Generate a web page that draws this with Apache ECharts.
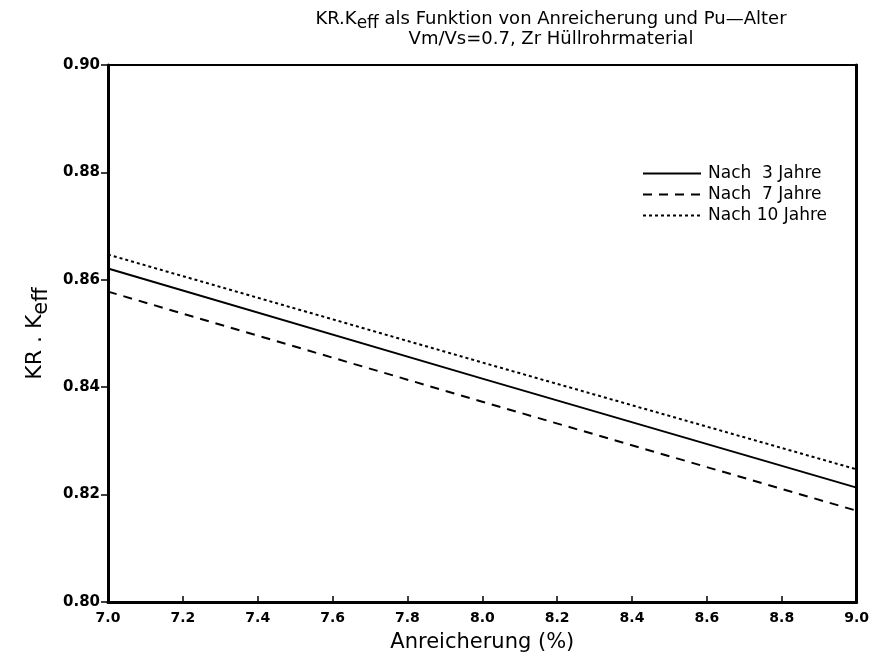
<!DOCTYPE html>
<html><head><meta charset="utf-8">
<script src="https://cdn.jsdelivr.net/npm/echarts@6/dist/echarts.min.js"></script>
<style>html,body{margin:0;padding:0;background:#fff}#c{width:872px;height:661px}</style>
</head><body><div id="c"></div>
<script>
const xValues = [7.0, 8.0, 9.0];
const seriesNames = ['Nach  3 Jahre', 'Nach  7 Jahre', 'Nach 10 Jahre'];
const jahre3 = [0.8621, 0.8416, 0.8213];
const jahre7 = [0.8578, 0.8373, 0.8170];
const jahre10 = [0.8647, 0.8446, 0.8247];
const xTicks = [7.0, 7.2, 7.4, 7.6, 7.8, 8.0, 8.2, 8.4, 8.6, 8.8, 9.0];
const yTicks = [0.80, 0.82, 0.84, 0.86, 0.88, 0.90];

const font = 'DejaVu Sans';
const chart = echarts.init(document.getElementById('c'));
const mk = (vals) => xValues.map((x, i) => [x, vals[i]]);
chart.setOption({
  animation: false,
  backgroundColor: '#fff',
  title: {
    text: '{a|KR.K}{s|eff}{a| als Funktion von Anreicherung und Pu\u2014Alter}\n{a|Vm/Vs=0.7, Zr Hüllrohrmaterial}',
    left: 546, top: 4, textAlign: 'center',
    textStyle: {
      fontWeight: 'normal',
      rich: {
        a: {fontFamily: font, fontSize: 18, fontWeight: 'normal', color: '#000', lineHeight: 20},
        s: {fontFamily: font, fontSize: 17, fontWeight: 'normal', color: '#000', lineHeight: 20, padding: [10, 0, 0, 0]}
      }
    }
  },
  legend: {
    orient: 'vertical', left: 637, top: 160, itemGap: 4, itemWidth: 58, itemHeight: 18,
    data: seriesNames,
    textStyle: {fontFamily: font, fontSize: 17, color: '#000', padding: [0, 0, 0, 2]},
    itemStyle: {opacity: 0}
  },
  grid: {left: 108, right: 13, top: 65, bottom: 59},
  xAxis: [{
    type: 'value', min: 7.0, max: 9.0, interval: 0.2,
    name: 'Anreicherung (%)', nameLocation: 'middle', nameGap: 30,
    nameTextStyle: {fontFamily: font, fontSize: 21, color: '#000'},
    axisLine: {lineStyle: {color: '#000', width: 3}},
    axisTick: {inside: true, length: 6, lineStyle: {color: '#000', width: 1.5}},
    axisLabel: {fontFamily: font, fontWeight: 'bold', fontSize: 14, color: '#000', margin: 9,
      formatter: v => v.toFixed(1)},
    splitLine: {show: false}
  }, {
    type: 'value', min: 7.0, max: 9.0, position: 'top',
    axisLine: {show: true, lineStyle: {color: '#000', width: 2}},
    axisTick: {show: false}, axisLabel: {show: false}, splitLine: {show: false}
  }],
  yAxis: [{
    type: 'value', min: 0.80, max: 0.90, interval: 0.02,
    name: 'KR . K{s|eff}', nameLocation: 'middle', nameGap: 56,
    nameTextStyle: {fontFamily: font, fontSize: 22, color: '#000',
      rich: {s: {fontFamily: font, fontSize: 21, color: '#000', padding: [12, 0, 0, 0]}}},
    axisLine: {show: true, lineStyle: {color: '#000', width: 3}},
    axisTick: {show: true, length: 7, lineStyle: {color: '#000', width: 1.5}},
    axisLabel: {fontFamily: font, fontWeight: 'bold', fontSize: 15, color: '#000', margin: 8,
      formatter: v => v.toFixed(2)},
    splitLine: {show: false}
  }, {
    type: 'value', min: 0.80, max: 0.90, position: 'right',
    axisLine: {show: true, lineStyle: {color: '#000', width: 3}},
    axisTick: {show: false}, axisLabel: {show: false}, splitLine: {show: false}
  }],
  series: [
    {name: seriesNames[0], type: 'line', data: mk(jahre3), symbol: 'none',
      lineStyle: {color: '#000', width: 2, type: 'solid'}, itemStyle: {color: '#000'}},
    {name: seriesNames[1], type: 'line', data: mk(jahre7), symbol: 'none',
      lineStyle: {color: '#000', width: 2, type: [9, 7]}, itemStyle: {color: '#000'}},
    {name: seriesNames[2], type: 'line', data: mk(jahre10), symbol: 'none',
      lineStyle: {color: '#000', width: 2, type: [3, 3]}, itemStyle: {color: '#000'}}
  ]
});
</script></body></html>
